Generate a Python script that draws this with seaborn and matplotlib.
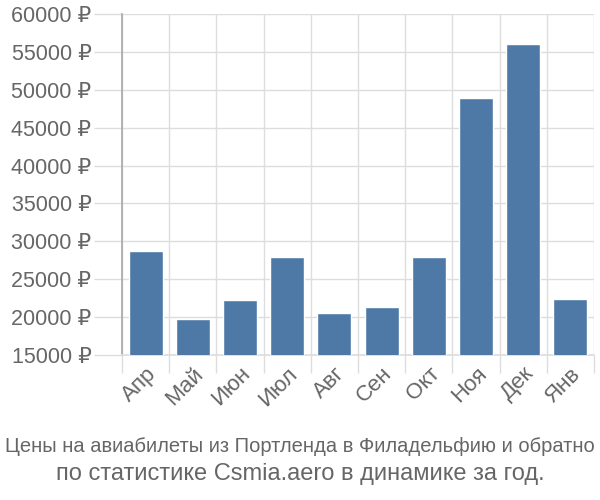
import matplotlib
matplotlib.use("Agg")
import matplotlib.pyplot as plt
import seaborn as sns
import pandas as pd
import numpy as np
from matplotlib.ticker import FixedLocator

months = ["Апр", "Май", "Июн", "Июл", "Авг", "Сен", "Окт", "Ноя", "Дек", "Янв"]
prices = [28750, 19800, 22250, 27900, 20500, 21300, 27900, 48900, 56050, 22450]
yticks = [15000, 20000, 25000, 30000, 35000, 40000, 45000, 50000, 55000, 60000]
title1 = "Цены на авиабилеты из Портленда в Филадельфию и обратно"
title2 = "по статистике Csmia.aero в динамике за год."

sns.set_theme(style="white")
plt.rcParams['font.family'] = ['Liberation Sans', 'DejaVu Sans']

df = pd.DataFrame({"month": months, "price": prices})

fig = plt.figure(figsize=(6, 5), dpi=100)
ax = fig.add_axes([122/600, 1-355/500, (594-122)/600, (355-14)/500])

sns.barplot(data=df, x="month", y="price", color="#4e79a7", saturation=1,
            width=0.72, ax=ax, zorder=3)

ax.set_ylim(15000, 60000)
ax.set_xlim(-0.5, len(months) - 0.5)
ax.set_yticks(yticks)
ax.set_yticklabels([f"{v} ₽" for v in yticks])
ax.set_xlabel("")
ax.set_ylabel("")

ax.xaxis.set_minor_locator(FixedLocator(np.arange(-0.5, len(months), 1.0)))
ax.grid(which="minor", axis="x", color="#dddddd", linewidth=1, zorder=0)
ax.grid(which="major", axis="y", color="#dddddd", linewidth=1, zorder=0)
ax.tick_params(axis="x", which="major", length=0, labelsize=16, labelcolor="#666666", pad=6)
ax.tick_params(axis="x", which="minor", length=13, color="#dddddd", width=1, bottom=True)
ax.tick_params(axis="y", which="major", length=20, color="#dddddd", width=1, left=True,
               labelsize=15.5, labelcolor="#666666", pad=2)
for lbl in ax.get_xticklabels():
    lbl.set_rotation(45)
    lbl.set_ha("right")
    lbl.set_rotation_mode("anchor")

for s in ["top", "right"]:
    ax.spines[s].set_visible(False)
ax.spines["left"].set_color("#aaaaaa")
ax.spines["bottom"].set_color("#dddddd")

fig.text(0.5, 1-447/500, title1, ha="center", va="center", fontsize=14.5, color="#666666")
fig.text(0.5, 1-474/500, title2, ha="center", va="center", fontsize=17, color="#666666")

fig.savefig("out.png", dpi=100)
